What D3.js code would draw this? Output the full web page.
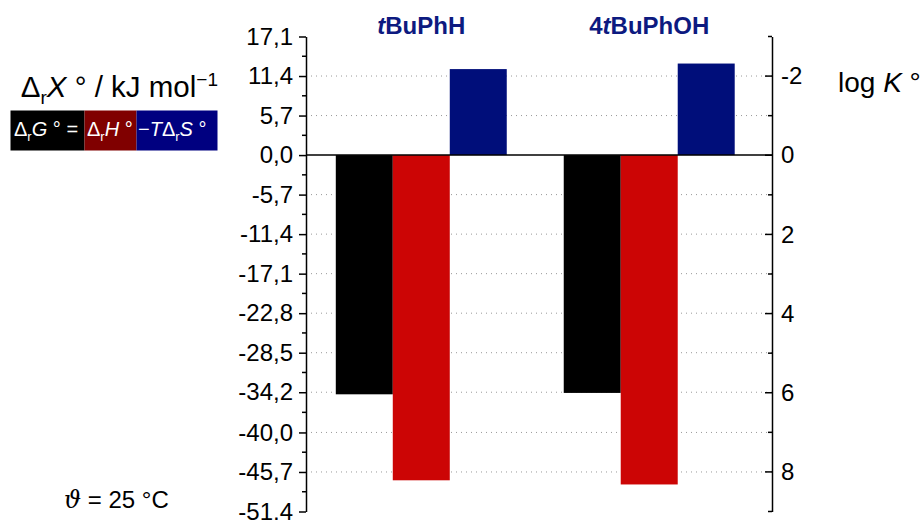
<!DOCTYPE html>
<html><head><meta charset="utf-8">
<script src="https://cdn.jsdelivr.net/npm/d3@7"></script>
<style>body{margin:0;background:#fff}svg{display:block;font-family:"Liberation Sans",Arial,sans-serif}</style>
</head><body><svg id="c" width="923" height="520"></svg>
<script>
const categories = ["tBuPhH", "4tBuPhOH"];
const seriesNames = ["dG", "dH", "mTdS"];
const dG = [-34.5, -34.3];
const dH = [-46.9, -47.5];
const mTdS = [12.4, 13.2];
const leftTicks = [17.1, 11.4, 5.7, 0.0, -5.7, -11.4, -17.1, -22.8, -28.5, -34.2, -40.0, -45.7, -51.4];
const leftMinor = [14.25, 8.55, 2.85, -2.85, -8.55, -14.25, -19.95, -25.65, -31.35, -37.1, -42.85, -48.55];
const rightTicks = [-2, 0, 2, 4, 6, 8];
const rightMinor = [-3, -1, 1, 3, 5, 7, 9];

const svg = d3.select("#c");
const X0 = 306, X1 = 772, Y0 = 36.5, Y1 = 511.5;
const yE = d3.scaleLinear().domain([17.1, -51.4]).range([Y0, Y1]);
const yK = d3.scaleLinear().domain([-3, 9]).range([Y0, Y1]);
const xG = d3.scaleBand().domain(categories).range([X0 + 7, X1 - 14.5]).paddingInner(0.25).paddingOuter(0.1);
const xS = d3.scaleBand().domain(seriesNames).range([0, xG.bandwidth()]);
const colors = {dG: "#000000", dH: "#cc0505", mTdS: "#000e7a"};
const vals = {dG, dH, mTdS};

// grid lines
svg.append("g").selectAll("line").data(leftTicks.filter(v => v !== 0 && v !== 17.1 && v !== -51.4)).join("line")
  .attr("x1", X0).attr("x2", X1).attr("y1", d => yE(d)).attr("y2", d => yE(d))
  .attr("stroke", "#999").attr("stroke-width", 1).attr("stroke-dasharray", "1,4");

// bars
const gb = svg.append("g");
seriesNames.forEach(s => {
  gb.selectAll(null).data(categories).join("rect")
    .attr("x", c => xG(c) + xS(s))
    .attr("width", xS.bandwidth())
    .attr("y", (c, i) => yE(Math.max(0, vals[s][i])))
    .attr("height", (c, i) => Math.abs(yE(vals[s][i]) - yE(0)))
    .attr("fill", colors[s]);
});

// zero line
svg.append("line").attr("x1", X0).attr("x2", X1).attr("y1", yE(0)).attr("y2", yE(0)).attr("stroke", "#000").attr("stroke-width", 1.5);

// left axis
const la = svg.append("g").attr("transform", `translate(${X0},0)`)
  .call(d3.axisLeft(yE).tickValues(leftTicks).tickFormat((d, i) => leftTicks[i].toFixed(1).replace(".", ",")).tickSize(7).tickSizeOuter(0).tickPadding(6));
la.select(".domain").attr("stroke-width", 1.5);
la.selectAll(".tick line").attr("stroke-width", 1.5);
la.selectAll("text").attr("font-size", 24).attr("font-family", "Liberation Sans, Arial, sans-serif").attr("fill", "#000");
svg.append("g").selectAll("line").data(leftMinor).join("line")
  .attr("x1", X0 - 4).attr("x2", X0).attr("y1", d => yE(d)).attr("y2", d => yE(d)).attr("stroke", "#000").attr("stroke-width", 1.5);

// right axis (ticks inward)
const ra = svg.append("g").attr("transform", `translate(${X1},0)`)
  .call(d3.axisRight(yK).tickValues(rightTicks).tickFormat(d => String(d)).tickSize(0).tickSizeOuter(0).tickPadding(9));
ra.select(".domain").attr("stroke-width", 1.5);
ra.selectAll("text").attr("font-size", 24).attr("font-family", "Liberation Sans, Arial, sans-serif").attr("fill", "#000");
svg.append("g").selectAll("line").data(rightTicks).join("line")
  .attr("x1", X1 - 7).attr("x2", X1).attr("y1", d => yK(d)).attr("y2", d => yK(d)).attr("stroke", "#000").attr("stroke-width", 1.5);
svg.append("g").selectAll("line").data(rightMinor).join("line")
  .attr("x1", X1 - 4).attr("x2", X1).attr("y1", d => yK(d)).attr("y2", d => yK(d)).attr("stroke", "#000").attr("stroke-width", 1.5);

// category labels
const catLabels = [[["t", true], ["BuPhH", false]], [["4", false], ["t", true], ["BuPhOH", false]]];
categories.forEach((c, i) => {
  const t = svg.append("text").attr("x", xG(c) + xG.bandwidth() / 2).attr("y", 34)
    .attr("text-anchor", "middle").attr("font-size", 24).attr("font-weight", "bold").attr("fill", "#0d1a80");
  catLabels[i].forEach(([s, it]) => t.append("tspan").text(s).attr("font-style", it ? "italic" : "normal"));
});

// y title
const tt = svg.append("text").attr("x", 218).attr("y", 97).attr("text-anchor", "end").attr("font-size", 29.5).attr("fill", "#000");
tt.append("tspan").text("Δ");
tt.append("tspan").text("r").attr("font-size", 19).attr("dy", 7);
tt.append("tspan").text("X").attr("font-style", "italic").attr("dy", -7);
tt.append("tspan").text(" ° / kJ mol");
tt.append("tspan").text("−1").attr("font-size", 19).attr("dy", -11);

// legend boxes
const lg = svg.append("g");
lg.append("rect").attr("x", 10.5).attr("y", 110.5).attr("width", 74).attr("height", 40).attr("fill", "#000");
lg.append("rect").attr("x", 84.5).attr("y", 110.5).attr("width", 52).attr("height", 40).attr("fill", "#800000");
lg.append("rect").attr("x", 136.5).attr("y", 110.5).attr("width", 81).attr("height", 40).attr("fill", "#000080");
function formula(x, y, parts) {
  const t = lg.append("text").attr("x", x).attr("y", y).attr("font-size", 20).attr("fill", "#fff");
  parts.forEach(([s, st]) => {
    const sp = t.append("tspan").text(s);
    if (st === "i") sp.attr("font-style", "italic");
    if (st === "sub") sp.attr("font-size", 13).attr("dy", 5);
    if (st === "upi") sp.attr("dy", -5).attr("font-style", "italic");
  });
}
formula(14, 136, [["Δ"], ["r", "sub"], ["G", "upi"], [" ° ="]]);
formula(87, 136, [["Δ"], ["r", "sub"], ["H", "upi"], [" °"]]);
formula(138, 136, [["−"], ["T", "i"], ["Δ"], ["r", "sub"], ["S", "upi"], [" °"]]);

// log K label
const lk = svg.append("text").attr("x", 838).attr("y", 92).attr("font-size", 28).attr("fill", "#000");
lk.append("tspan").text("log ");
lk.append("tspan").text("K").attr("font-style", "italic");
lk.append("tspan").text(" °");

// temperature
const tp = svg.append("text").attr("x", 64).attr("y", 508).attr("font-size", 24).attr("fill", "#000");
tp.append("tspan").text("ϑ").attr("font-style", "italic").attr("font-family", "DejaVu Serif, serif");
tp.append("tspan").text(" = 25 °C");
</script></body></html>
